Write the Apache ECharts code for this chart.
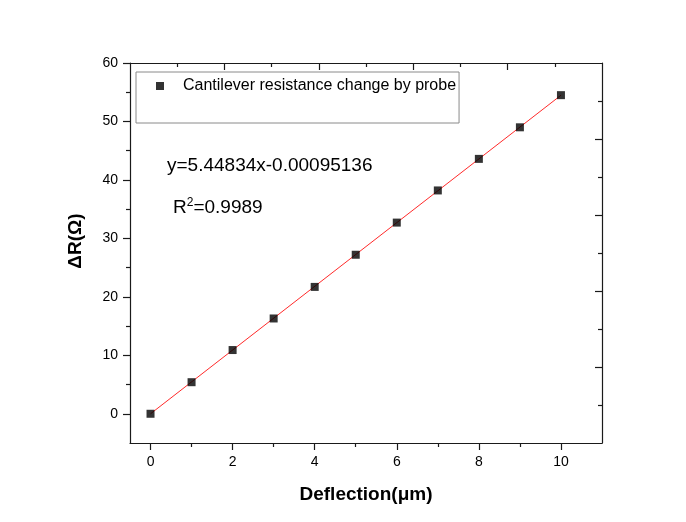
<!DOCTYPE html>
<html>
<head>
<meta charset="utf-8">
<script src="https://cdn.jsdelivr.net/npm/echarts@6/dist/echarts.min.js"></script>
<style>
  html, body { margin: 0; padding: 0; background: #fff; }
  #chart { width: 686px; height: 522px; }
</style>
</head>
<body>
<div id="chart"></div>
<script>
// measured points
const deflection = [0, 1, 2, 3, 4, 5, 6, 7, 8, 9, 10];
const deltaR = [0, 5.4, 10.9, 16.3, 21.7, 27.2, 32.7, 38.2, 43.6, 49.0, 54.5];
// linear fit line end points
const fitX = [0, 10];
const fitY = [-0.00095, 54.4824];
// tick values
const xMajor = [0, 2, 4, 6, 8, 10];
const xMinor = [1, 3, 5, 7, 9];
const yMajor = [0, 10, 20, 30, 40, 50, 60];
const yMinor = [5, 15, 25, 35, 45, 55];
// mirrored top / right axes (own 0..10 scale)
const mirrorMajor = [2, 4, 6, 8];
const mirrorMinor = [1, 3, 5, 7, 9];

const FONT = 'Liberation Sans, Arial, sans-serif';
const AXIS_COLOR = '#1a1a1a';

const chart = echarts.init(document.getElementById('chart'));

const lineStyle = { color: AXIS_COLOR, width: 1.2 };

const option = {
  backgroundColor: '#fff',
  animation: false,
  grid: { left: 130, right: 84, top: 63, bottom: 79 },
  legend: {
    data: ['Cantilever resistance change by probe'],
    left: 136,
    top: 72,
    icon: 'rect',
    itemWidth: 8,
    itemHeight: 8,
    borderColor: '#8a8a8a',
    borderWidth: 1,
    padding: [6, 3, 29, 20],
    textStyle: { fontFamily: FONT, fontSize: 16, color: '#000', padding: [0, 0, 0, 14] }
  },
  xAxis: [
    {
      type: 'value', position: 'bottom', min: -0.5, max: 11,
      axisLine: { show: true, onZero: false, lineStyle },
      axisTick: { show: true, customValues: xMajor, length: 7, lineStyle },
      axisLabel: { customValues: xMajor, fontFamily: FONT, fontSize: 14, color: '#000', margin: 12 },
      splitLine: { show: false },
      name: 'Deflection(\u03bcm)', nameLocation: 'middle', nameGap: 42,
      nameTextStyle: { fontFamily: FONT, fontSize: 19, fontWeight: 'bold', color: '#000' }
    },
    {
      type: 'value', position: 'top', min: 0, max: 10,
      axisLine: { show: true, onZero: false, lineStyle },
      axisTick: { show: true, inside: true, customValues: mirrorMajor, length: 7, lineStyle },
      axisLabel: { show: false },
      splitLine: { show: false }
    },
    {
      type: 'value', position: 'top', min: 0, max: 10,
      axisLine: { show: false, onZero: false },
      axisTick: { show: true, inside: true, customValues: mirrorMinor, length: 4, lineStyle },
      axisLabel: { show: false },
      splitLine: { show: false }
    },
    {
      type: 'value', position: 'bottom', min: -0.5, max: 11,
      axisLine: { show: false, onZero: false },
      axisTick: { show: true, customValues: xMinor, length: 4, lineStyle },
      axisLabel: { show: false },
      splitLine: { show: false }
    }
  ],
  yAxis: [
    {
      type: 'value', position: 'left', min: -5, max: 60,
      axisLine: { show: true, onZero: false, lineStyle },
      axisTick: { show: true, customValues: yMajor, length: 7, lineStyle },
      axisLabel: { customValues: yMajor, fontFamily: FONT, fontSize: 14, color: '#000', margin: 12 },
      splitLine: { show: false },
      name: '\u0394R(\u03a9)', nameLocation: 'middle', nameGap: 45,
      nameTextStyle: { fontFamily: FONT, fontSize: 19, fontWeight: 'bold', color: '#000', padding: [0, 0, 0, 24] }
    },
    {
      type: 'value', position: 'right', min: 0, max: 10,
      axisLine: { show: true, onZero: false, lineStyle },
      axisTick: { show: true, inside: true, customValues: mirrorMajor, length: 7, lineStyle },
      axisLabel: { show: false },
      splitLine: { show: false }
    },
    {
      type: 'value', position: 'right', min: 0, max: 10,
      axisLine: { show: false, onZero: false },
      axisTick: { show: true, inside: true, customValues: mirrorMinor, length: 4, lineStyle },
      axisLabel: { show: false },
      splitLine: { show: false }
    },
    {
      type: 'value', position: 'left', min: -5, max: 60,
      axisLine: { show: false, onZero: false },
      axisTick: { show: true, customValues: yMinor, length: 4, lineStyle },
      axisLabel: { show: false },
      splitLine: { show: false }
    }
  ],
  graphic: [
    {
      type: 'text', left: 167, top: 156,
      style: { text: 'y=5.44834x-0.00095136', fontFamily: FONT, fontSize: 19, fill: '#000' }
    },
    {
      type: 'text', left: 173, top: 197,
      style: {
        text: '{r|R}{s|2}{r|=0.9989}',
        fontFamily: FONT,
        rich: {
          r: { fontFamily: FONT, fontSize: 19, fill: '#000', verticalAlign: 'bottom' },
          s: { fontFamily: FONT, fontSize: 12, fill: '#000', verticalAlign: 'top', padding: [0, 0, 8, 0] }
        }
      }
    }
  ],
  series: [
    {
      name: 'fit',
      type: 'line',
      xAxisIndex: 0, yAxisIndex: 0,
      data: fitX.map((x, i) => [x, fitY[i]]),
      showSymbol: false,
      symbol: 'none',
      lineStyle: { color: '#ff2a2a', width: 1 },
      z: 2
    },
    {
      name: 'Cantilever resistance change by probe',
      type: 'scatter',
      xAxisIndex: 0, yAxisIndex: 0,
      data: deflection.map((x, i) => [x, deltaR[i]]),
      symbol: 'rect',
      symbolSize: 8,
      itemStyle: { color: '#000' },
      z: 3
    }
  ]
};

chart.setOption(option);
window.addEventListener('resize', function () {
  chart.resize();
});
</script>
</body>
</html>
